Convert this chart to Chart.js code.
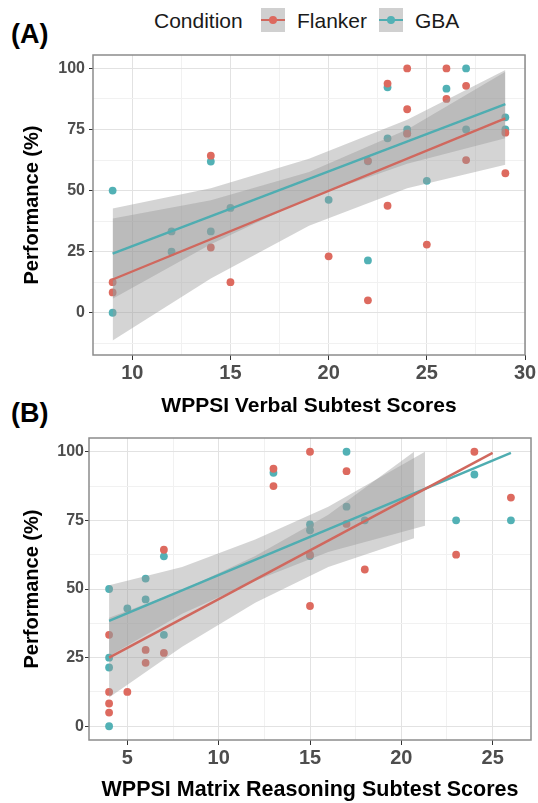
<!DOCTYPE html>
<html>
<head>
<meta charset="utf-8">
<script src="https://cdn.jsdelivr.net/npm/chart.js@4.4.1/dist/chart.umd.min.js"></script>
<style>
  body { margin: 0; width: 538px; height: 803px; background: #fff; position: relative; overflow: hidden;
         font-family: "Liberation Sans", Arial, sans-serif; }
  canvas { position: absolute; left: 0; }
  .tag { position: absolute; left: 11px; font-weight: bold; font-size: 27px; line-height: 30px; color: #000; }
  .leg { position: absolute; font-size: 21px; line-height: 24px; color: #1a1a1a; }
  .key { position: absolute; width: 24px; height: 24px; background: #d0d0d0; }
  .key .ln { position: absolute; left: 0; top: 11px; width: 24px; height: 2px; }
  .key .dot { position: absolute; left: 8px; top: 8px; width: 8px; height: 8px; border-radius: 50%; }
</style>
</head>
<body>
<div class="tag" style="top:19px">(A)</div>
<div class="tag" style="top:398px">(B)</div>

<div class="leg" style="left:154px; top:9px">Condition</div>
<div class="key" style="left:261px; top:8px"><div class="ln" style="background:#D0685E"></div><div class="dot" style="background:#DD6A5F"></div></div>
<div class="leg" style="left:297px; top:9px">Flanker</div>
<div class="key" style="left:379px; top:8px"><div class="ln" style="background:#4FADB1"></div><div class="dot" style="background:#52B1B5"></div></div>
<div class="leg" style="left:415px; top:9px">GBA</div>

<canvas id="chartA" width="538" height="380" style="top:40px"></canvas>
<canvas id="chartB" width="538" height="383" style="top:420px"></canvas>

<script>
// colores
const colFlanker = "#DD6A5F";
const colGba = "#52B1B5";
const lineFlanker = "#D0685E";
const lineGba = "#4FADB1";
const bandFill = "rgba(153,153,153,0.42)";

// ---- Panel A: WPPSI Verbal ----
const verbalFlankerX = [9, 9, 14, 14, 15, 20, 22, 22, 23, 23, 24, 24, 24, 25, 26, 26, 27, 27, 29, 29];
const verbalFlankerY = [12.5, 8.3, 64.3, 26.7, 12.5, 23.1, 62.2, 5.1, 93.8, 43.8, 100, 83.3, 73.3, 27.9, 100, 87.5, 92.9, 62.5, 73.7, 57.1];
const verbalGbaX = [9, 9, 12, 12, 14, 14, 15, 20, 22, 22, 23, 23, 24, 24, 25, 26, 27, 27, 29, 29];
const verbalGbaY = [50, 0, 33.3, 25, 61.9, 33.3, 42.9, 46.2, 21.4, 62, 92.3, 71.4, 75, 73.5, 54, 91.7, 100, 75, 80, 75];

// rectas de regresión
const verbalLineX = [9, 29];
const verbalFlankerLineY = [13.6, 79.6];
const verbalGbaLineY = [24.2, 85.4];

// bandas de confianza
const verbalBandX = [9, 14, 19, 24, 29];
const verbalFlankerLow = [-11.4, 14, 35.6, 51, 60.6];
const verbalFlankerHigh = [38.6, 46, 57.6, 75, 98.6];
const verbalGbaLow = [5.7, 28, 47, 61, 71.4];
const verbalGbaHigh = [42.7, 51, 63, 79, 99.4];

// ---- Panel B: WPPSI Matrix Reasoning ----
const matrixFlankerX = [4, 4, 4, 4, 5, 6, 6, 7, 7, 13, 13, 15, 15, 15, 17, 17, 18, 23, 24, 26];
const matrixFlankerY = [33.3, 12.5, 8.3, 5, 12.5, 27.8, 23.1, 64.3, 26.7, 93.8, 87.5, 100, 62.5, 43.8, 92.9, 73.7, 57.1, 62.5, 100, 83.3];
const matrixGbaX = [4, 4, 4, 4, 5, 6, 6, 7, 7, 13, 15, 15, 15, 17, 17, 18, 23, 24, 26];
const matrixGbaY = [50, 25, 21.4, 0, 42.9, 53.8, 46.2, 61.9, 33.3, 92.3, 73.5, 71.4, 62, 100, 80, 75, 75, 91.7, 75];

const matrixFlankerLineX = [4, 25];
const matrixFlankerLineY = [25, 99.6];
const matrixGbaLineX = [4, 26];
const matrixGbaLineY = [38.4, 99.6];

const matrixFlankerBandX = [4, 8, 12, 16, 20.7];
const matrixFlankerLow = [10.5, 29, 45, 58, 68.5];
const matrixFlankerHigh = [39.5, 49.5, 62, 77, 100];
const matrixGbaBandX = [4, 8, 12, 16, 21.3];
const matrixGbaLow = [25.5, 41, 53, 63.5, 73];
const matrixGbaHigh = [51.4, 58, 68, 80, 100];

// ticks
const verbalXTicks = [10, 12.5, 15, 17.5, 20, 22.5, 25, 27.5, 30];
const verbalXMajor = [10, 15, 20, 25, 30];
const verbalXLabels = ["10", "15", "20", "25", "30"];
const verbalYTicks = [-12.5, 0, 12.5, 25, 37.5, 50, 62.5, 75, 87.5, 100];
const matrixXTicks = [5, 7.5, 10, 12.5, 15, 17.5, 20, 22.5, 25];
const matrixXMajor = [5, 10, 15, 20, 25];
const matrixXLabels = ["5", "10", "15", "20", "25"];
const matrixYTicks = [0, 12.5, 25, 37.5, 50, 62.5, 75, 87.5, 100];
const yMajor = [0, 25, 50, 75, 100];
const yLabels = ["0", "25", "50", "75", "100"];

function pts(xs, ys) {
  return xs.map((x, i) => ({ x: x, y: ys[i] }));
}

function pointSet(xs, ys, color) {
  return { type: "scatter", data: pts(xs, ys), backgroundColor: color, borderWidth: 0, pointRadius: 3.9, order: 3 };
}

function bandSets(xs, low, high) {
  return [
    { type: "line", data: pts(xs, high), borderWidth: 0, pointRadius: 0, fill: "+1", backgroundColor: bandFill, order: 2 },
    { type: "line", data: pts(xs, low), borderWidth: 0, pointRadius: 0, fill: false, order: 2 },
  ];
}

function lineSet(xs, ys, color) {
  return { type: "line", data: pts(xs, ys), borderColor: color, borderWidth: 2.4, pointRadius: 0, fill: false, order: 1 };
}

function makeScale(o) {
  return {
    type: "linear",
    min: o.min,
    max: o.max,
    afterBuildTicks: (scale) => {
      scale.ticks = o.ticks.map((v) => ({ value: v }));
    },
    afterFit: (scale) => {
      if (o.horizontal) scale.height = o.thick;
      else scale.width = o.thick;
    },
    border: { display: false },
    grid: {
      color: (c) => (o.major.includes(c.tick.value) ? "#e2e2e2" : "#f1f1f1"),
      lineWidth: 1,
      tickLength: o.tickLen,
      tickColor: (c) => (o.major.includes(c.tick.value) ? "#333333" : "rgba(0,0,0,0)"),
    },
    ticks: {
      autoSkip: false,
      maxRotation: 0,
      padding: o.pad,
      color: "#4d4d4d",
      font: { family: "Liberation Sans", weight: "bold", size: o.size },
      callback: (v) => {
        const i = o.major.indexOf(v);
        return i >= 0 ? o.labels[i] : "";
      },
    },
    title: {
      display: true,
      text: o.title,
      color: "#000",
      font: { family: "Liberation Sans", weight: "bold", size: o.titleSize },
      padding: o.titlePad,
    },
  };
}

// marco del panel
const frame = {
  id: "frame",
  afterDraw(chart) {
    const a = chart.chartArea;
    const c = chart.ctx;
    c.save();
    c.strokeStyle = "#8c8c8c";
    c.lineWidth = 1.5;
    c.strokeRect(a.left, a.top, a.right - a.left, a.bottom - a.top);
    c.restore();
  },
};

function makeChart(id, datasets, xScale, yScale, padding) {
  new Chart(document.getElementById(id), {
    type: "scatter",
    data: { datasets: datasets },
    options: {
      responsive: false,
      animation: false,
      layout: { padding: padding },
      plugins: { legend: { display: false }, tooltip: { enabled: false } },
      scales: { x: xScale, y: yScale },
    },
    plugins: [frame],
  });
}

makeChart(
  "chartA",
  [
    pointSet(verbalFlankerX, verbalFlankerY, colFlanker),
    pointSet(verbalGbaX, verbalGbaY, colGba),
    ...bandSets(verbalBandX, verbalFlankerLow, verbalFlankerHigh),
    ...bandSets(verbalBandX, verbalGbaLow, verbalGbaHigh),
    lineSet(verbalLineX, verbalFlankerLineY, lineFlanker),
    lineSet(verbalLineX, verbalGbaLineY, lineGba),
  ],
  makeScale({ min: 8, max: 30, ticks: verbalXTicks, major: verbalXMajor, labels: verbalXLabels, size: 20,
              tickLen: 5, pad: 1, title: "WPPSI Verbal Subtest Scores", titleSize: 21,
              titlePad: { top: 0, bottom: 1 }, horizontal: true, thick: 65 }),
  makeScale({ min: -17.3, max: 105.5, ticks: verbalYTicks, major: yMajor, labels: yLabels, size: 16,
              tickLen: 4, pad: 4, title: "Performance (%)", titleSize: 20,
              titlePad: { top: 20, bottom: 0 }, horizontal: false, thick: 93 }),
  { top: 15, right: 13, left: 0, bottom: 0 }
);

makeChart(
  "chartB",
  [
    pointSet(matrixFlankerX, matrixFlankerY, colFlanker),
    pointSet(matrixGbaX, matrixGbaY, colGba),
    ...bandSets(matrixFlankerBandX, matrixFlankerLow, matrixFlankerHigh),
    ...bandSets(matrixGbaBandX, matrixGbaLow, matrixGbaHigh),
    lineSet(matrixFlankerLineX, matrixFlankerLineY, lineFlanker),
    lineSet(matrixGbaLineX, matrixGbaLineY, lineGba),
  ],
  makeScale({ min: 2.9, max: 27.1, ticks: matrixXTicks, major: matrixXMajor, labels: matrixXLabels, size: 20,
              tickLen: 5, pad: 1, title: "WPPSI Matrix Reasoning Subtest Scores", titleSize: 21.5,
              titlePad: { top: 0, bottom: 0 }, horizontal: true, thick: 63 }),
  makeScale({ min: -5, max: 105, ticks: matrixYTicks, major: yMajor, labels: yLabels, size: 16,
              tickLen: 4, pad: 1, title: "Performance (%)", titleSize: 20,
              titlePad: { top: 20, bottom: 0 }, horizontal: false, thick: 89 }),
  { top: 18, right: 7, left: 0, bottom: 0 }
);
</script>
</body>
</html>
